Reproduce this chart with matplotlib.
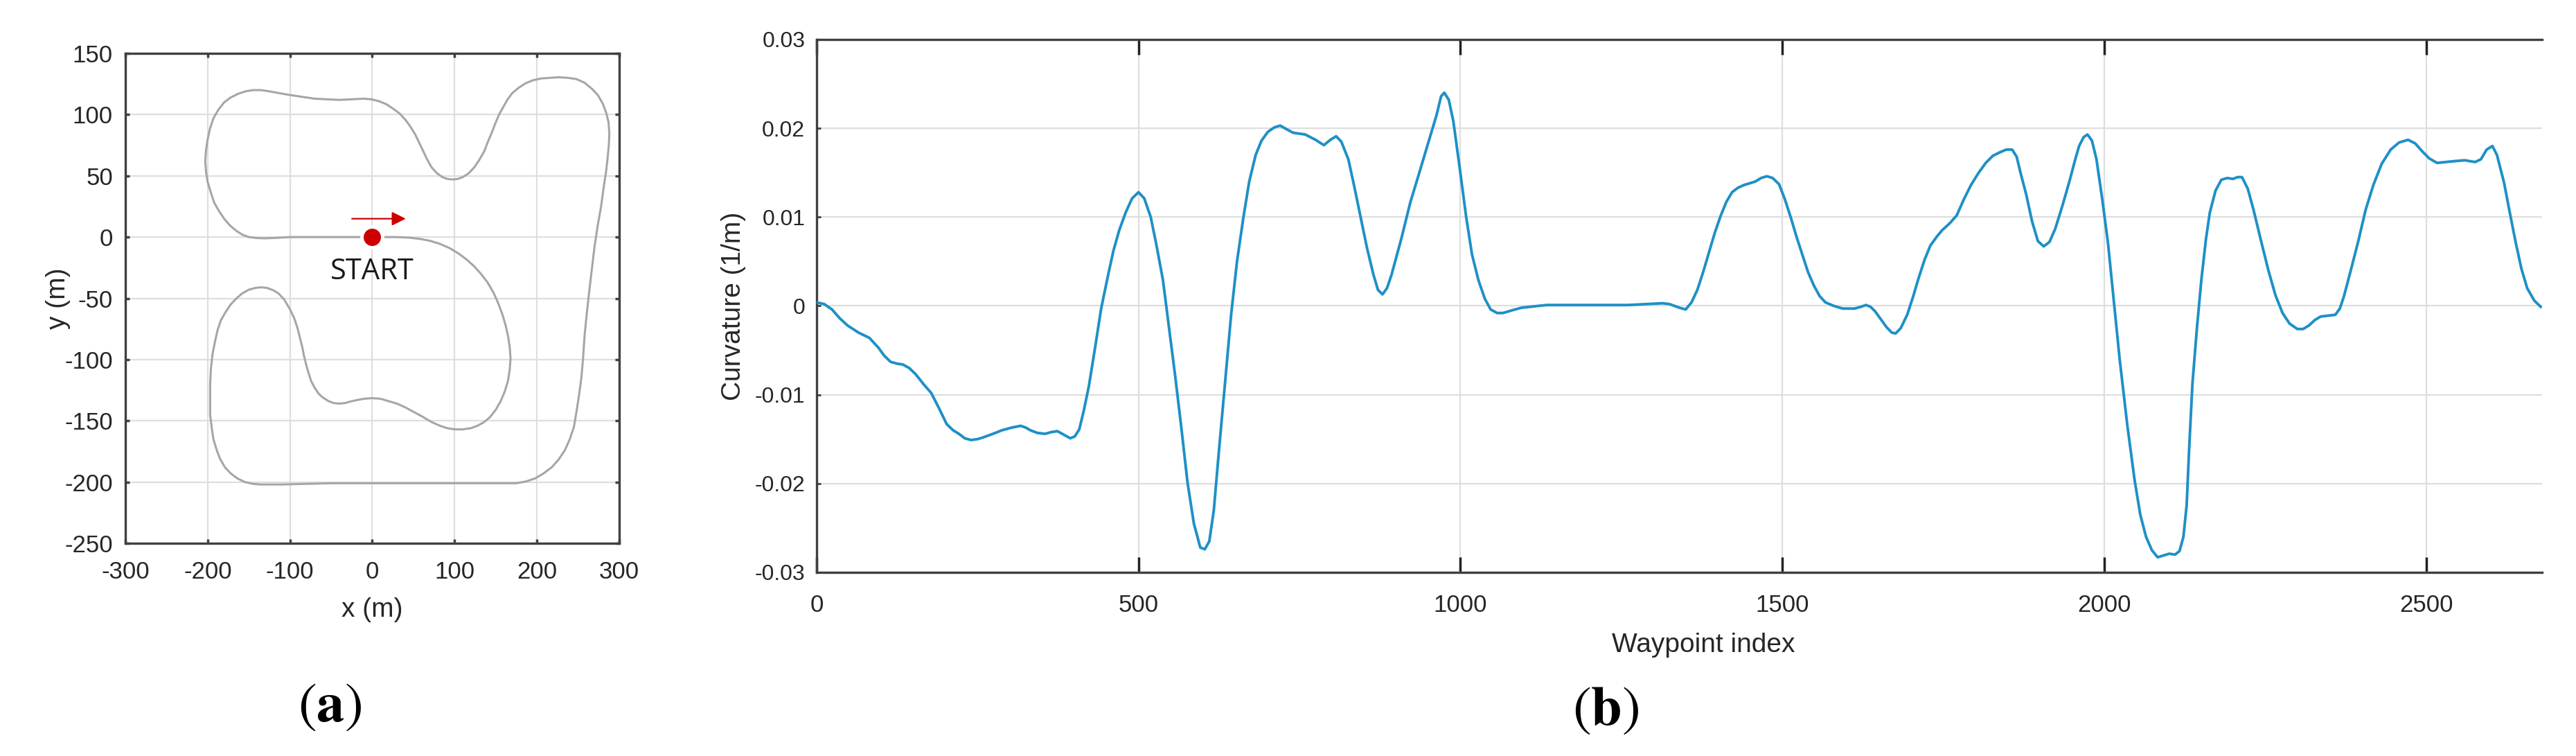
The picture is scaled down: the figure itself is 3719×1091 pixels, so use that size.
import numpy as np
import matplotlib
matplotlib.use("Agg")
import matplotlib.pyplot as plt

plt.rcParams['font.family'] = ['Liberation Sans', 'DejaVu Sans']
plt.rcParams['axes.unicode_minus'] = False
plt.rcParams['mathtext.fontset'] = 'stix'

# (a) track layout (m), starting at START and heading east
track_x = [0, 15, 30, 45, 58, 70, 82, 94, 105, 115, 124, 132, 140, 147, 153, 158, 162, 165, 167,
           168, 167, 165, 161, 156, 150, 143, 136, 128, 120, 110, 100, 91, 82, 72, 62, 51, 40, 30,
           20, 10, 0, -10, -18, -25, -33, -40, -47, -53, -60, -65, -70, -74, -77, -80, -83, -85,
           -88, -91, -95, -100, -107, -114, -120, -128, -135, -142, -150, -158, -165, -172, -178,
           -184, -188, -191, -194, -196, -197, -197, -197, -195, -193, -189, -185, -179, -172,
           -164, -155, -145, -135, -110, -50, 50, 130, 160, 175, 187, 198, 208, 218, 226, 234,
           240, 245, 248, 251, 254, 256, 258, 261, 264, 267, 270, 274, 278, 281, 284, 286, 287.5,
           288, 287, 284, 280, 274, 267, 258, 248, 238, 226, 215, 205, 195, 186, 178, 170, 164,
           159, 154, 149, 145, 140, 136, 130, 124, 117, 110, 104, 98, 91, 85, 78, 72, 67, 62, 57,
           52, 46, 40, 33, 25, 17, 8, -1, -10, -25, -40, -55, -70, -85, -100, -113, -125, -135,
           -145, -154, -163, -172, -180, -187, -193, -197, -200, -202, -203, -202, -200, -196,
           -192, -186, -180, -173, -165, -158, -150, -140, -130, -115, -100, -80, -60, -40, -25, 0]
track_y = [0, 0, 0, -0.5, -1.5, -3, -5.5, -9, -13.5, -18.5, -24, -30, -37, -45, -54, -63, -72, -81,
           -90, -99, -108, -117, -126, -134, -141, -147, -151, -154, -156, -157, -157, -156, -154,
           -151, -147, -143, -139, -136, -134, -132, -131.5, -132, -133, -134, -135.5, -136,
           -135.5, -134, -131, -128, -123, -118, -112, -105, -97, -90, -82, -74, -66, -59, -51,
           -46, -43.5, -41.5, -41, -41.5, -43, -46, -50, -55, -61, -68, -76, -85, -95, -107, -120,
           -133, -145, -156, -165, -174, -181, -188, -193, -197, -200, -201.5, -202, -202, -201,
           -201, -201, -201, -201, -199.5, -197, -193, -188, -182, -174, -165, -155, -143, -130,
           -115, -100, -80, -60, -42, -25, -8, 10, 25, 40, 53, 65, 76, 85, 94, 102, 109, 116, 121,
           126, 129, 130, 130.5, 130, 129.5, 128, 125.5, 122, 117.5, 112, 106, 100, 92, 85, 77, 70,
           63, 57, 52, 49, 47.5, 47, 47.5, 49, 52.5, 57, 63, 70, 77, 84, 90.5, 96, 101, 105, 108.5,
           111, 112.5, 113, 112.5, 112, 112.5, 113, 114.5, 116, 117.5, 119, 120, 120, 119, 117,
           114, 110, 104, 97, 89, 80, 71, 62, 53, 45, 36, 28, 21, 15, 9.5, 5, 2, 0, -0.8, -1,
           -0.6, 0, 0, 0, 0, 0, 0]
start_xy = (0, 0)
arrow_from = (-27, 15)
arrow_to = (43, 15)
start_label_xy = (0, -28)

# (b) curvature along the path (1/m)
wp_index = [0, 12, 24, 36, 48, 65, 82, 96, 105, 115, 125, 134, 144, 154, 166, 178, 190, 202, 212,
            221, 230, 240, 250, 259, 274, 288, 303, 317, 325, 332, 343, 355, 365, 374, 384, 394,
            401, 408, 415, 423, 433, 442, 452, 461, 470, 480, 490, 500, 509, 519, 528, 538, 547,
            557, 567, 576, 586, 596, 603, 610, 617, 624, 634, 644, 653, 663, 672, 682, 691, 701,
            711, 720, 730, 740, 759, 775, 788, 798, 807, 815, 826, 835, 845, 855, 865, 872, 879,
            886, 893, 908, 922, 937, 951, 963, 970, 975, 982, 989, 999, 1009, 1018, 1028, 1038,
            1047, 1057, 1066, 1080, 1095, 1134, 1200, 1260, 1314, 1325, 1340, 1350, 1359, 1368,
            1377, 1386, 1395, 1404, 1413, 1422, 1431, 1440, 1458, 1467, 1476, 1485, 1495, 1504,
            1513, 1522, 1531, 1540, 1549, 1558, 1567, 1580, 1594, 1612, 1622, 1630, 1637, 1644,
            1653, 1662, 1670, 1676, 1684, 1694, 1703, 1712, 1721, 1730, 1740, 1748, 1760, 1771,
            1782, 1793, 1805, 1816, 1827, 1838, 1848, 1857, 1864, 1870, 1879, 1888, 1897, 1906,
            1915, 1924, 1936, 1947, 1955, 1961, 1968, 1974, 1981, 1988, 1997, 2006, 2015, 2024,
            2036, 2047, 2056, 2065, 2074, 2083, 2092, 2101, 2110, 2117, 2123, 2128, 2132, 2137,
            2144, 2151, 2158, 2164, 2173, 2182, 2191, 2200, 2207, 2214, 2223, 2232, 2243, 2255,
            2266, 2277, 2288, 2300, 2309, 2318, 2327, 2336, 2347, 2359, 2366, 2372, 2383, 2395,
            2406, 2418, 2431, 2445, 2458, 2472, 2483, 2494, 2505, 2517, 2530, 2544, 2560, 2576,
            2585, 2594, 2603, 2610, 2621, 2630, 2639, 2648, 2657, 2668, 2678]
curvature = [0.0004, 0.0002, -0.0004, -0.0014, -0.0022, -0.0030, -0.0036, -0.0047, -0.0056,
             -0.0063, -0.0065, -0.0066, -0.0070, -0.0077, -0.0088, -0.0098, -0.0115, -0.0133,
             -0.0140, -0.0144, -0.0149, -0.0151, -0.0150, -0.0148, -0.0144, -0.0140, -0.0137,
             -0.0135, -0.0137, -0.0140, -0.0143, -0.0144, -0.0142, -0.0141, -0.0145, -0.0149,
             -0.0147, -0.0139, -0.0118, -0.0090, -0.0045, -0.0003, 0.0032, 0.0062, 0.0085,
             0.0105, 0.0121, 0.0128, 0.0121, 0.0100, 0.0068, 0.0029, -0.0022, -0.0079, -0.0140,
             -0.0198, -0.0245, -0.0272, -0.0274, -0.0265, -0.0230, -0.0171, -0.0090, -0.0009,
             0.0050, 0.0100, 0.0140, 0.0170, 0.0186, 0.0196, 0.0201, 0.0203, 0.0199, 0.0195,
             0.0193, 0.0187, 0.0181, 0.0187, 0.0191, 0.0185, 0.0165, 0.0135, 0.0100, 0.0065,
             0.0035, 0.0018, 0.0013, 0.0020, 0.0035, 0.0075, 0.0116, 0.0152, 0.0186, 0.0215,
             0.0236, 0.0240, 0.0232, 0.0208, 0.0155, 0.0100, 0.0058, 0.0029, 0.0008, -0.0004,
             -0.0008, -0.0008, -0.0005, -0.0002, 0.0001, 0.0001, 0.0001, 0.0003, 0.0002, -0.0002,
             -0.0004, 0.0004, 0.0018, 0.0038, 0.0060, 0.0082, 0.0101, 0.0117, 0.0128, 0.0133,
             0.0136, 0.0140, 0.0144, 0.0146, 0.0144, 0.0137, 0.0120, 0.0100, 0.0078, 0.0058,
             0.0038, 0.0023, 0.0011, 0.0004, 0.0000, -0.0003, -0.0003, -0.0001, 0.0001, -0.0001,
             -0.0006, -0.0015, -0.0024, -0.0030, -0.0031, -0.0025, -0.0010, 0.0010, 0.0032,
             0.0052, 0.0068, 0.0078, 0.0085, 0.0093, 0.0102, 0.0120, 0.0136, 0.0150, 0.0161,
             0.0169, 0.0173, 0.0176, 0.0176, 0.0168, 0.0150, 0.0125, 0.0095, 0.0073, 0.0067,
             0.0072, 0.0087, 0.0115, 0.0143, 0.0165, 0.0180, 0.0190, 0.0193, 0.0186, 0.0165,
             0.0120, 0.0070, 0.0005, -0.0060, -0.0135, -0.0195, -0.0235, -0.0260, -0.0275,
             -0.0283, -0.0281, -0.0279, -0.0280, -0.0276, -0.0260, -0.0225, -0.0160, -0.0088,
             -0.0025, 0.0030, 0.0075, 0.0105, 0.0130, 0.0142, 0.0144, 0.0143, 0.0145, 0.0145,
             0.0132, 0.0108, 0.0075, 0.0040, 0.0012, -0.0008, -0.0020, -0.0026, -0.0026, -0.0022,
             -0.0016, -0.0012, -0.0011, -0.0010, -0.0003, 0.0010, 0.0040, 0.0074, 0.0108, 0.0136,
             0.0160, 0.0176, 0.0184, 0.0187, 0.0183, 0.0174, 0.0166, 0.0161, 0.0162, 0.0163,
             0.0164, 0.0162, 0.0165, 0.0176, 0.0180, 0.0170, 0.0139, 0.0105, 0.0072, 0.0042,
             0.0020, 0.0006, -0.0001]

xticks_a = [-300, -200, -100, 0, 100, 200, 300]
yticks_a = [-250, -200, -150, -100, -50, 0, 50, 100, 150]
xticks_b = [0, 500, 1000, 1500, 2000, 2500]
yticks_b = [-0.03, -0.02, -0.01, 0, 0.01, 0.02, 0.03]
ytick_labels_b = ['-0.03', '-0.02', '-0.01', '0', '0.01', '0.02', '0.03']

text_c = '#262626'
spine_c = '#404040'
grid_c = '#dedede'
red = '#cc0000'

fig = plt.figure(figsize=(37.19, 10.91), dpi=100)
ax1 = fig.add_axes([0.04867, 0.2814, 0.1917, 0.6480])
ax2 = fig.add_axes([0.3170, 0.2429, 0.6698, 0.7049])

# ---- (a) ----
ax1.plot(track_x, track_y, color='#a6a6a6', lw=2.2, zorder=3)
ax1.plot(*start_xy, 'o', color=red, ms=21.5, mec='white', mew=3.5, zorder=4)
ax1.annotate('', xy=arrow_to, xytext=arrow_from,
             arrowprops=dict(arrowstyle='-|>', color=red, lw=1.6, mutation_scale=30))
ax1.text(*start_label_xy, 'START', fontsize=30, family=['Open Sans', 'DejaVu Sans'],
         ha='center', va='center', color='#1a1a1a')
ax1.set_xlim(-300, 300)
ax1.set_ylim(-250, 150)
ax1.set_xticks(xticks_a)
ax1.set_yticks(yticks_a)
ax1.set_xlabel('x (m)', fontsize=28, color=text_c)
ax1.set_ylabel('y (m)', fontsize=28, color=text_c)
ax1.xaxis.label.set_va('center')
ax1.yaxis.label.set_va('center')
ax1.xaxis.set_label_coords(0.5, -0.136)
ax1.yaxis.set_label_coords(-0.136, 0.5)
ax1.tick_params(direction='in', length=4, width=2.5, top=True, right=True,
                colors=spine_c, labelcolor=text_c, labelsize=25)
ax1.tick_params(axis='x', pad=18)
ax1.tick_params(axis='y', pad=13)

# ---- (b) ----
ax2.plot(wp_index, curvature, color='#1e90c6', lw=2.8, zorder=3)
ax2.set_xlim(0, 2680)
ax2.set_ylim(-0.03, 0.03)
ax2.set_xticks(xticks_b)
ax2.set_yticks(yticks_b)
ax2.set_yticklabels(ytick_labels_b)
ax2.set_xlabel('Waypoint index', fontsize=28, color=text_c)
ax2.set_ylabel('Curvature (1/m)', fontsize=28, color=text_c)
ax2.xaxis.label.set_va('center')
ax2.yaxis.label.set_va('center')
ax2.xaxis.set_label_coords(0.514, -0.1365)
ax2.yaxis.set_label_coords(-0.048, 0.5)
ax2.spines['right'].set_visible(False)
ax2.tick_params(axis='x', direction='in', length=16, width=2.5, top=True,
                colors='#222222', labelcolor=text_c, labelsize=25, pad=22)
ax2.tick_params(axis='y', direction='in', length=4, width=2, right=False,
                colors=spine_c, labelcolor=text_c, labelsize=23, pad=12)

for ax in (ax1, ax2):
    ax.grid(True, color=grid_c, lw=1.6)
    ax.set_axisbelow(True)
    for s in ax.spines.values():
        s.set_color(spine_c)
        s.set_linewidth(2.4)

fig.text(476 / 3719, 1 - 1020 / 1091, r'$(\mathbf{a})$', fontsize=58,
         ha='center', va='center', color='black')
fig.text(2318 / 3719, 1 - 1025 / 1091, r'$(\mathbf{b})$', fontsize=58,
         ha='center', va='center', color='black')

fig.savefig('out.png', dpi=100, facecolor='white')
